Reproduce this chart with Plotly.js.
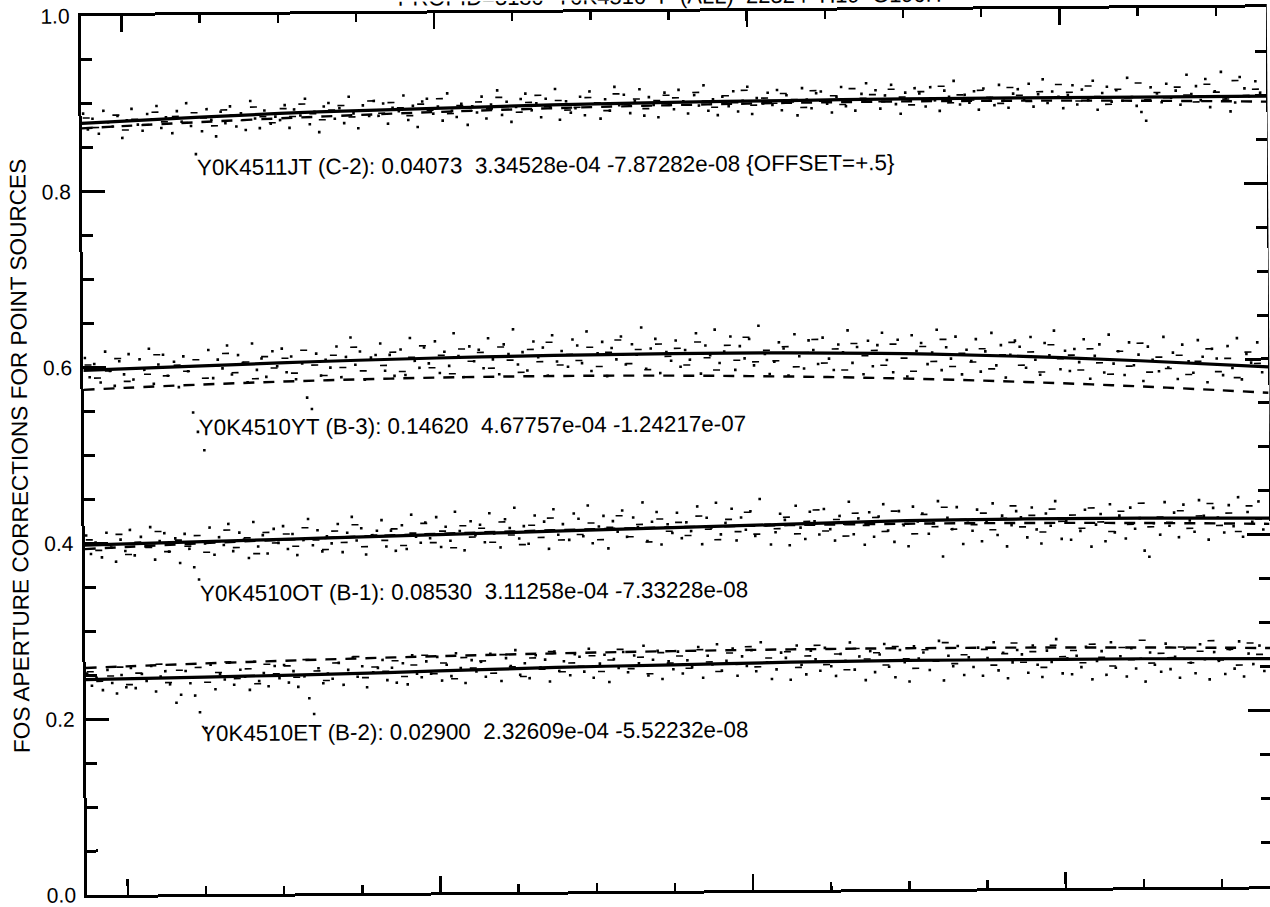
<!DOCTYPE html>
<html>
<head>
<meta charset="utf-8">
<script src="https://cdn.plot.ly/plotly-3.0.1.min.js"></script>
<style>
  html, body { margin: 0; padding: 0; background: #fff; overflow: hidden; }
  /* the scanned sheet sits slightly askew */
  #chart { width: 1270px; height: 907px; transform: rotate(-0.42deg); transform-origin: 50% 50%; }
</style>
</head>
<body>
<div id="chart"></div>
<script>
// ---- FOS G190H aperture corrections: quadratic fits per aperture ----
const apertures = ['Y0K4511JT (C-2)', 'Y0K4510YT (B-3)', 'Y0K4510OT (B-1)', 'Y0K4510ET (B-2)'];
const c0 = [0.04073, 0.14620, 0.08530, 0.02900];
const c1 = [3.34528e-04, 4.67757e-04, 3.11258e-04, 2.32609e-04];
const c2 = [-7.87282e-08, -1.24217e-07, -7.33228e-08, -5.52232e-08];
const offsets = [0.5, 0, 0, 0];
const offsetNotes = ['{OFFSET=+.5}', '', '', ''];

// wavelengths (Angstrom) at which the fitted polynomials are evaluated
const fitWl = [1574, 1600, 1650, 1700, 1750, 1800, 1850, 1900, 1950, 2000,
               2050, 2100, 2150, 2200, 2250, 2300, 2332];

// smoothed measured curves
const smoothWl = [1574, 1650, 1725, 1800, 1875, 1950, 2025, 2100, 2175, 2250, 2332];
const smoothC2 = [0.878, 0.884, 0.889, 0.892, 0.895, 0.897, 0.898, 0.899, 0.899, 0.899, 0.899];
const smoothB3 = [0.597, 0.601, 0.605, 0.608, 0.610, 0.611, 0.611, 0.609, 0.605, 0.599, 0.591];
const smoothB1 = [0.398, 0.401, 0.404, 0.407, 0.410, 0.413, 0.416, 0.419, 0.420, 0.420, 0.419];
const smoothB2 = [0.245, 0.247, 0.249, 0.252, 0.255, 0.257, 0.259, 0.260, 0.260, 0.260, 0.259];

// individual measurements, first pass (sample wavelengths shared by all apertures)
const pointWl = [
  1575,1578,1581,1585,1588,1591,1594,1597,1600,1603,
  1606,1610,1613,1616,1619,1622,1625,1628,1632,1635,
  1638,1641,1644,1647,1651,1654,1657,1660,1663,1666,
  1669,1673,1676,1679,1682,1685,1688,1691,1695,1698,
  1701,1704,1707,1710,1714,1717,1720,1723,1726,1729,
  1732,1736,1739,1742,1745,1748,1751,1754,1758,1761,
  1764,1767,1770,1773,1777,1780,1783,1786,1789,1792,
  1795,1799,1802,1805,1808,1811,1814,1817,1821,1824,
  1827,1830,1833,1836,1840,1843,1846,1849,1852,1855,
  1858,1862,1865,1868,1871,1874,1877,1880,1884,1887,
  1890,1893,1896,1899,1903,1906,1909,1912,1915,1918,
  1921,1925,1928,1931,1934,1937,1940,1943,1947,1950,
  1953,1956,1959,1962,1966,1969,1972,1975,1978,1981,
  1984,1988,1991,1994,1997,2000,2003,2006,2010,2013,
  2016,2019,2022,2025,2029,2032,2035,2038,2041,2044,
  2047,2051,2054,2057,2060,2063,2066,2069,2073,2076,
  2079,2082,2085,2088,2092,2095,2098,2101,2104,2107,
  2110,2114,2117,2120,2123,2126,2129,2132,2136,2139,
  2142,2145,2148,2151,2155,2158,2161,2164,2167,2170,
  2173,2177,2180,2183,2186,2189,2192,2195,2199,2202,
  2205,2208,2211,2214,2218,2221,2224,2227,2230,2233,
  2236,2240,2243,2246,2249,2252,2255,2258,2262,2265,
  2268,2271,2274,2277,2281,2284,2287,2290,2293,2296,
  2299,2303,2306,2309,2312,2315,2318,2321,2325,2328
];

const pointsC2 = [
  0.889,0.871,0.883,0.866,0.892,0.879,0.874,0.886,0.861,0.881,
  0.894,0.876,0.869,0.888,0.882,0.897,0.872,0.884,0.866,0.891,
  0.879,0.900,0.874,0.842,0.868,0.893,0.881,0.862,0.890,0.877,
  0.896,0.873,0.888,0.869,0.902,0.882,0.871,0.891,0.876,0.884,
  0.880,0.897,0.871,0.892,0.885,0.904,0.875,0.889,0.866,0.895,
  0.899,0.881,0.893,0.876,0.906,0.887,0.870,0.896,0.884,0.901,
  0.884,0.898,0.875,0.893,0.889,0.907,0.879,0.895,0.871,0.900,
  0.903,0.886,0.894,0.878,0.909,0.889,0.882,0.897,0.873,0.894,
  0.887,0.905,0.880,0.896,0.912,0.884,0.899,0.876,0.893,0.902,
  0.908,0.889,0.897,0.881,0.902,0.893,0.913,0.878,0.899,0.886,
  0.891,0.904,0.883,0.910,0.896,0.879,0.901,0.888,0.915,0.894,
  0.906,0.885,0.899,0.912,0.882,0.903,0.894,0.880,0.908,0.897,
  0.889,0.911,0.898,0.884,0.905,0.893,0.916,0.887,0.900,0.882,
  0.903,0.892,0.909,0.886,0.898,0.914,0.883,0.901,0.895,0.907,
  0.893,0.910,0.887,0.904,0.897,0.881,0.912,0.899,0.889,0.906,
  0.908,0.894,0.884,0.902,0.913,0.891,0.899,0.886,0.905,0.917,
  0.896,0.909,0.888,0.903,0.915,0.893,0.882,0.906,0.898,0.911,
  0.905,0.890,0.912,0.897,0.885,0.908,0.901,0.919,0.892,0.903,
  0.894,0.907,0.886,0.910,0.899,0.891,0.914,0.896,0.888,0.904,
  0.909,0.897,0.915,0.889,0.903,0.920,0.893,0.906,0.900,0.887,
  0.902,0.913,0.891,0.908,0.896,0.918,0.885,0.904,0.911,0.894,
  0.907,0.895,0.921,0.899,0.889,0.882,0.872,0.910,0.903,0.893,
  0.914,0.898,0.906,0.890,0.924,0.902,0.911,0.895,0.919,0.887,
  0.905,0.927,0.897,0.882,0.892,0.921,0.908,0.899,0.916,0.903
];

const pointsB3 = [
  0.611,0.589,0.604,0.583,0.618,0.596,0.579,0.607,0.592,0.615,
  0.586,0.609,0.597,0.621,0.581,0.603,0.614,0.590,0.606,0.577,
  0.612,0.595,0.548,0.526,0.505,0.619,0.587,0.608,0.598,0.624,
  0.591,0.613,0.604,0.582,0.626,0.596,0.609,0.588,0.617,0.600,
  0.620,0.593,0.611,0.585,0.603,0.564,0.551,0.614,0.589,0.607,
  0.598,0.622,0.587,0.610,0.632,0.601,0.616,0.584,0.609,0.612,
  0.625,0.594,0.612,0.588,0.618,0.589,0.631,0.605,0.597,0.620,
  0.602,0.627,0.591,0.615,0.599,0.636,0.610,0.586,0.621,0.604,
  0.617,0.596,0.630,0.606,0.589,0.623,0.612,0.640,0.600,0.614,
  0.593,0.626,0.608,0.619,0.587,0.633,0.603,0.615,0.597,0.628,
  0.621,0.601,0.637,0.592,0.612,0.625,0.586,0.618,0.605,0.631,
  0.599,0.622,0.610,0.641,0.594,0.617,0.628,0.589,0.613,0.603,
  0.626,0.596,0.615,0.604,0.634,0.588,0.620,0.609,0.638,0.600,
  0.613,0.630,0.592,0.619,0.605,0.627,0.597,0.642,0.610,0.587,
  0.601,0.623,0.616,0.585,0.632,0.607,0.593,0.625,0.614,0.598,
  0.628,0.604,0.591,0.620,0.611,0.636,0.599,0.617,0.586,0.624,
  0.595,0.619,0.633,0.602,0.588,0.625,0.609,0.583,0.630,0.612,
  0.621,0.597,0.610,0.636,0.590,0.616,0.603,0.628,0.585,0.613,
  0.600,0.625,0.588,0.611,0.632,0.595,0.618,0.581,0.607,0.623,
  0.616,0.592,0.627,0.601,0.584,0.620,0.606,0.634,0.590,0.611,
  0.588,0.613,0.598,0.624,0.579,0.605,0.618,0.586,0.629,0.596,
  0.610,0.583,0.620,0.594,0.606,0.576,0.615,0.600,0.587,0.626,
  0.591,0.608,0.578,0.617,0.598,0.585,0.622,0.603,0.574,0.612,
  0.601,0.582,0.615,0.590,0.624,0.577,0.606,0.596,0.619,0.585
];

const pointsB1 = [
  0.409,0.388,0.401,0.384,0.412,0.395,0.379,0.404,0.391,0.415,
  0.386,0.407,0.396,0.418,0.381,0.402,0.411,0.390,0.405,0.377,
  0.410,0.393,0.372,0.358,0.399,0.417,0.386,0.406,0.397,0.421,
  0.390,0.411,0.403,0.382,0.423,0.395,0.408,0.387,0.415,0.399,
  0.418,0.392,0.409,0.385,0.402,0.426,0.396,0.413,0.389,0.406,
  0.398,0.420,0.388,0.410,0.428,0.401,0.415,0.385,0.407,0.412,
  0.424,0.394,0.412,0.389,0.418,0.391,0.430,0.405,0.398,0.421,
  0.403,0.427,0.393,0.416,0.400,0.433,0.411,0.389,0.422,0.406,
  0.418,0.398,0.431,0.408,0.392,0.424,0.414,0.437,0.402,0.416,
  0.396,0.428,0.410,0.421,0.390,0.435,0.406,0.418,0.400,0.430,
  0.424,0.404,0.439,0.396,0.415,0.427,0.390,0.421,0.409,0.433,
  0.403,0.425,0.414,0.442,0.398,0.420,0.431,0.394,0.417,0.407,
  0.430,0.401,0.419,0.409,0.437,0.394,0.424,0.413,0.441,0.405,
  0.418,0.434,0.398,0.424,0.410,0.431,0.403,0.445,0.415,0.393,
  0.407,0.428,0.421,0.392,0.437,0.412,0.399,0.430,0.419,0.404,
  0.433,0.410,0.397,0.425,0.416,0.441,0.404,0.422,0.392,0.429,
  0.401,0.424,0.438,0.408,0.395,0.430,0.414,0.390,0.435,0.418,
  0.427,0.404,0.416,0.441,0.378,0.422,0.409,0.434,0.392,0.419,
  0.407,0.431,0.395,0.418,0.438,0.402,0.424,0.389,0.413,0.429,
  0.422,0.399,0.433,0.408,0.392,0.426,0.412,0.440,0.397,0.417,
  0.396,0.420,0.406,0.430,0.388,0.413,0.425,0.394,0.436,0.404,
  0.423,0.397,0.432,0.408,0.420,0.383,0.376,0.414,0.401,0.438,
  0.411,0.426,0.398,0.435,0.417,0.404,0.440,0.422,0.395,0.431,
  0.420,0.403,0.434,0.410,0.443,0.398,0.426,0.415,0.438,0.406
];

const pointsB2 = [
  0.252,0.238,0.247,0.233,0.256,0.241,0.229,0.250,0.236,0.258,
  0.235,0.251,0.243,0.260,0.231,0.248,0.254,0.239,0.218,0.227,
  0.254,0.240,0.226,0.207,0.189,0.261,0.233,0.250,0.244,0.263,
  0.238,0.255,0.247,0.232,0.264,0.242,0.251,0.236,0.259,0.245,
  0.260,0.240,0.253,0.235,0.247,0.222,0.204,0.256,0.239,0.250,
  0.244,0.262,0.237,0.254,0.268,0.246,0.258,0.234,0.251,0.256,
  0.265,0.242,0.256,0.239,0.261,0.237,0.270,0.249,0.245,0.263,
  0.249,0.268,0.241,0.259,0.246,0.272,0.255,0.238,0.264,0.251,
  0.262,0.245,0.271,0.253,0.240,0.266,0.257,0.275,0.247,0.260,
  0.243,0.269,0.255,0.264,0.239,0.273,0.251,0.262,0.246,0.270,
  0.267,0.250,0.276,0.243,0.259,0.269,0.238,0.264,0.254,0.272,
  0.249,0.268,0.259,0.279,0.245,0.263,0.273,0.241,0.261,0.252,
  0.272,0.247,0.262,0.254,0.277,0.242,0.267,0.257,0.280,0.250,
  0.261,0.275,0.244,0.266,0.255,0.273,0.249,0.282,0.259,0.240,
  0.251,0.270,0.264,0.239,0.278,0.256,0.245,0.272,0.262,0.249,
  0.275,0.254,0.243,0.268,0.260,0.281,0.250,0.265,0.238,0.271,
  0.247,0.267,0.279,0.253,0.241,0.272,0.258,0.236,0.276,0.262,
  0.269,0.249,0.260,0.282,0.237,0.265,0.253,0.276,0.243,0.263,
  0.252,0.274,0.242,0.262,0.280,0.248,0.268,0.239,0.257,0.271,
  0.266,0.245,0.276,0.254,0.240,0.270,0.257,0.283,0.244,0.261,
  0.243,0.264,0.251,0.274,0.237,0.258,0.269,0.242,0.279,0.250,
  0.263,0.240,0.272,0.249,0.260,0.234,0.267,0.253,0.245,0.277,
  0.248,0.262,0.238,0.271,0.255,0.243,0.276,0.259,0.236,0.267,
  0.257,0.242,0.270,0.248,0.279,0.239,0.265,0.253,0.274,0.245
];

// individual measurements, second pass (short-dash specks)
const pointWl2 = [
  1577,1583,1590,1596,1602,1608,1615,1621,1627,1634,
  1640,1646,1652,1659,1665,1671,1678,1684,1690,1696,
  1703,1709,1715,1722,1728,1734,1740,1747,1753,1759,
  1766,1772,1778,1784,1791,1797,1803,1810,1816,1822,
  1828,1835,1841,1847,1854,1860,1866,1872,1879,1885,
  1891,1898,1904,1910,1916,1923,1929,1935,1942,1948,
  1954,1960,1967,1973,1979,1986,1992,1998,2004,2011,
  2017,2023,2030,2036,2042,2048,2055,2061,2067,2074,
  2080,2086,2092,2099,2105,2111,2118,2124,2130,2136,
  2143,2149,2155,2162,2168,2174,2180,2187,2193,2199,
  2206,2212,2218,2224,2231,2237,2243,2250,2256,2262,
  2268,2275,2281,2287,2294,2300,2306,2312,2319,2325
];

const specksC2 = [
  0.884,0.873,0.879,0.887,0.870,0.882,0.876,0.890,0.879,0.885,
  0.878,0.889,0.883,0.874,0.892,0.886,0.880,0.895,0.884,0.877,
  0.893,0.884,0.898,0.887,0.880,0.891,0.896,0.883,0.890,0.901,
  0.887,0.899,0.893,0.884,0.897,0.890,0.903,0.886,0.895,0.889,
  0.899,0.891,0.904,0.894,0.887,0.898,0.906,0.893,0.900,0.889,
  0.892,0.903,0.897,0.888,0.907,0.895,0.901,0.890,0.899,0.905,
  0.902,0.894,0.908,0.898,0.891,0.904,0.896,0.910,0.893,0.901,
  0.895,0.906,0.899,0.890,0.909,0.897,0.903,0.893,0.911,0.900,
  0.904,0.896,0.910,0.901,0.892,0.907,0.898,0.913,0.894,0.903,
  0.897,0.908,0.900,0.893,0.911,0.902,0.895,0.906,0.899,0.914,
  0.905,0.895,0.912,0.900,0.891,0.908,0.898,0.915,0.896,0.904,
  0.898,0.910,0.901,0.893,0.913,0.904,0.896,0.917,0.900,0.907
];

const specksB3 = [
  0.603,0.588,0.596,0.610,0.584,0.599,0.592,0.614,0.590,0.602,
  0.595,0.608,0.587,0.601,0.615,0.593,0.605,0.586,0.611,0.598,
  0.609,0.592,0.618,0.601,0.589,0.612,0.598,0.621,0.594,0.606,
  0.600,0.615,0.593,0.609,0.622,0.597,0.611,0.590,0.618,0.604,
  0.614,0.596,0.620,0.605,0.591,0.617,0.603,0.625,0.599,0.611,
  0.604,0.619,0.597,0.613,0.627,0.600,0.616,0.593,0.622,0.608,
  0.617,0.598,0.624,0.606,0.592,0.620,0.603,0.629,0.601,0.614,
  0.602,0.618,0.595,0.611,0.626,0.599,0.615,0.591,0.621,0.607,
  0.613,0.596,0.620,0.604,0.589,0.617,0.600,0.625,0.594,0.609,
  0.599,0.614,0.591,0.607,0.621,0.595,0.610,0.587,0.618,0.602,
  0.606,0.589,0.613,0.597,0.584,0.610,0.593,0.619,0.586,0.603,
  0.590,0.605,0.583,0.598,0.612,0.586,0.601,0.579,0.608,0.595
];

const specksB1 = [
  0.404,0.392,0.399,0.410,0.387,0.401,0.395,0.413,0.390,0.403,
  0.396,0.408,0.389,0.401,0.414,0.394,0.405,0.387,0.411,0.399,
  0.409,0.395,0.416,0.402,0.391,0.412,0.399,0.419,0.394,0.407,
  0.401,0.414,0.395,0.409,0.420,0.398,0.411,0.392,0.417,0.404,
  0.414,0.398,0.421,0.406,0.395,0.417,0.403,0.425,0.400,0.411,
  0.406,0.419,0.400,0.414,0.427,0.403,0.417,0.397,0.423,0.409,
  0.419,0.404,0.426,0.411,0.399,0.422,0.408,0.430,0.405,0.416,
  0.411,0.424,0.405,0.419,0.432,0.408,0.421,0.402,0.428,0.414,
  0.423,0.407,0.430,0.415,0.404,0.426,0.412,0.434,0.409,0.420,
  0.414,0.427,0.408,0.421,0.435,0.411,0.424,0.405,0.431,0.417,
  0.424,0.409,0.432,0.416,0.405,0.428,0.413,0.437,0.410,0.421,
  0.415,0.428,0.408,0.422,0.436,0.411,0.425,0.404,0.433,0.418
];

const specksB2 = [
  0.254,0.243,0.249,0.259,0.239,0.252,0.246,0.262,0.241,0.255,
  0.247,0.258,0.241,0.252,0.264,0.245,0.256,0.239,0.261,0.250,
  0.259,0.246,0.266,0.253,0.242,0.262,0.249,0.269,0.245,0.257,
  0.252,0.264,0.246,0.259,0.270,0.249,0.261,0.243,0.267,0.255,
  0.263,0.249,0.270,0.256,0.245,0.266,0.253,0.273,0.250,0.260,
  0.256,0.268,0.250,0.263,0.275,0.253,0.266,0.247,0.271,0.259,
  0.267,0.253,0.274,0.260,0.249,0.270,0.257,0.277,0.254,0.264,
  0.259,0.271,0.253,0.266,0.278,0.256,0.268,0.250,0.274,0.262,
  0.269,0.255,0.276,0.262,0.251,0.272,0.259,0.280,0.256,0.266,
  0.260,0.272,0.254,0.267,0.279,0.257,0.269,0.251,0.276,0.263,
  0.270,0.256,0.277,0.262,0.252,0.273,0.259,0.281,0.255,0.266,
  0.261,0.273,0.255,0.268,0.280,0.258,0.270,0.252,0.277,0.264
];

const pointSets = [pointsC2, pointsB3, pointsB1, pointsB2];
const speckSets = [specksC2, specksB3, specksB1, specksB2];
const smoothSets = [smoothC2, smoothB3, smoothB1, smoothB2];

const yTitle = 'FOS APERTURE CORRECTIONS FOR POINT SOURCES';
const runTitle = 'PROPID=3180  Y0K4510*T  (ALL)  22324  H19  G190H';

// ---- helpers ----
function expo(v) {
  // 3.34528e-4 -> 3.34528e-04
  return v.toExponential(5).replace(/e([+-])(\d)$/, 'e$10$2');
}
function fitCurve(i) {
  return fitWl.map(w => c0[i] + c1[i] * w + c2[i] * w * w + offsets[i]);
}

const ink = '#000';
const traces = [];
for (let i = 0; i < apertures.length; i++) {
  traces.push({
    x: pointWl, y: pointSets[i], type: 'scatter', mode: 'markers',
    marker: { color: ink, size: 2.6, symbol: 'square', line: { width: 0 } },
    hoverinfo: 'skip', showlegend: false
  });
  traces.push({
    x: pointWl2, y: speckSets[i], type: 'scatter', mode: 'markers',
    marker: { color: ink, size: 5, symbol: 'line-ew', line: { color: ink, width: 1.6 } },
    hoverinfo: 'skip', showlegend: false
  });
  traces.push({
    x: smoothWl, y: smoothSets[i], type: 'scatter', mode: 'lines',
    line: { color: ink, width: 3.2, shape: 'spline' },
    showlegend: false
  });
  traces.push({
    x: fitWl, y: fitCurve(i), type: 'scatter', mode: 'lines',
    line: { color: ink, width: 2.4, dash: '11px,9px', shape: 'spline' },
    showlegend: false
  });
}

// label placement for each aperture's coefficients
const labelY = [0.827, 0.531, 0.342, 0.183];
const font = 'Liberation Sans, Arial, Helvetica, sans-serif';
const annotations = apertures.map((name, i) => ({
  x: 1646, y: labelY[i], xref: 'x', yref: 'y',
  xanchor: 'left', yanchor: 'middle', showarrow: false,
  text: name + ': ' + c0[i].toFixed(5) + '\u00a0 ' + expo(c1[i]) + ' ' + expo(c2[i]) +
        (offsetNotes[i] ? ' ' + offsetNotes[i] : ''),
  font: { family: font, size: 22.4, color: ink }
}));
annotations.push({
  x: -0.054, y: 0.5, xref: 'paper', yref: 'paper', xanchor: 'center', yanchor: 'middle',
  textangle: -90, showarrow: false, text: yTitle,
  font: { family: font, size: 22.6, color: ink }
});
annotations.push({
  x: 0.497, y: 1.0178, xref: 'paper', yref: 'paper', xanchor: 'center', yanchor: 'middle',
  showarrow: false, text: runTitle,
  font: { family: font, size: 22, color: ink }
});

const layout = {
  width: 1270, height: 907,
  margin: { l: 84, r: 1, t: 12, b: 16 },
  paper_bgcolor: '#fff', plot_bgcolor: '#fff',
  showlegend: false,
  xaxis: {
    range: [1574, 2332], showgrid: false, zeroline: false,
    showline: true, linewidth: 3, linecolor: ink, mirror: 'ticks',
    ticks: 'inside', tick0: 1600, dtick: 200, ticklen: 16, tickwidth: 2.6, tickcolor: ink,
    showticklabels: false,
    minor: { dtick: 50, ticks: 'inside', ticklen: 8, tickwidth: 2.4, tickcolor: ink, showgrid: false }
  },
  yaxis: {
    range: [0, 1], showgrid: false, zeroline: false,
    showline: true, linewidth: 3, linecolor: ink, mirror: 'ticks',
    ticks: 'inside', tick0: 0, dtick: 0.2, ticklen: 23, tickwidth: 3, tickcolor: ink,
    tickformat: '.1f', ticklabelstandoff: 4,
    tickfont: { family: font, size: 21, color: ink },
    minor: { dtick: 0.05, ticks: 'inside', ticklen: 11, tickwidth: 3, tickcolor: ink, showgrid: false }
  },
  annotations: annotations
};

Plotly.newPlot('chart', traces, layout, { staticPlot: true, displayModeBar: false });
</script>
</body>
</html>
